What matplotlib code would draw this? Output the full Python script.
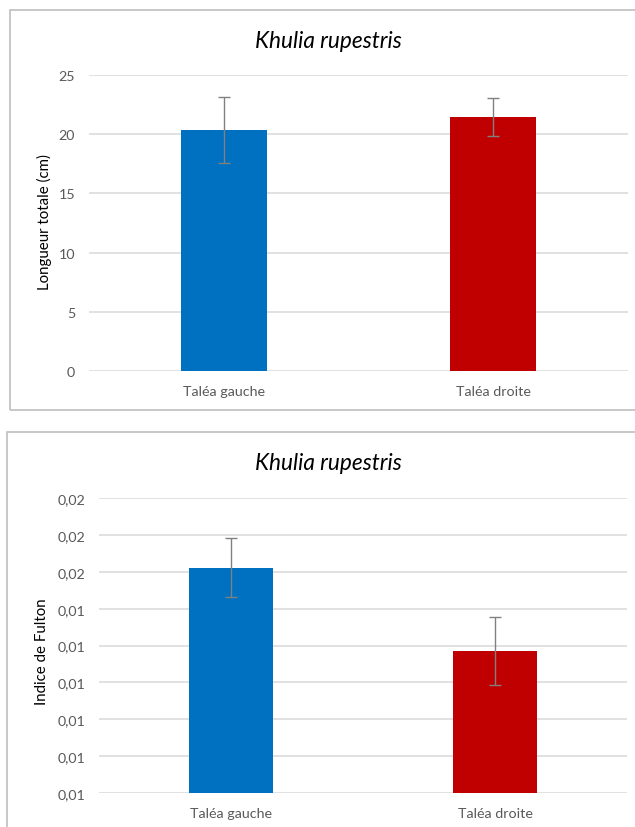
import matplotlib
matplotlib.use('Agg')
import matplotlib.pyplot as plt
from matplotlib.patches import Rectangle

# data
sites = ['Taléa gauche', 'Taléa droite']
bar_colors = ['#0070C0', '#C00000']
species = 'Khulia rupestris'

longueur = [20.33, 21.42]
longueur_err = [2.77, 1.60]
longueur_ticks = [0, 5, 10, 15, 20, 25]
longueur_labels = ['0', '5', '10', '15', '20', '25']

fulton = [0.01511, 0.01285]
fulton_err = [0.00080, 0.00092]
fulton_ticks = [0.009, 0.010, 0.011, 0.012, 0.013, 0.014, 0.015, 0.016, 0.017]
fulton_labels = ['0,01', '0,01', '0,01', '0,01', '0,01', '0,01', '0,02', '0,02', '0,02']

plt.rcParams['font.family'] = ['Lato', 'DejaVu Sans']

W, H = 635, 828
fig = plt.figure(figsize=(W / 100, H / 100), dpi=100)


def px(x0, y0, x1, y1):
    # pixel box (top-left origin) -> figure fraction rect
    return [x0 / W, 1 - y1 / H, (x1 - x0) / W, (y1 - y0) / H]


def draw_panel(rect, ylabel, values, errs, ticks, labels, ylab_x, ylab_y, title_y):
    ax = fig.add_axes(rect)
    x = range(len(sites))
    ax.bar(x, values, width=0.32, color=bar_colors, zorder=2)
    ax.errorbar(x, values, yerr=errs, fmt='none', ecolor='#808080',
                elinewidth=1.0, capsize=4.5, capthick=1.0, zorder=3)
    ax.set_xlim(-0.5, len(sites) - 0.5)
    ax.set_ylim(ticks[0], ticks[-1])
    ax.set_yticks(ticks)
    ax.set_yticklabels(labels)
    ax.set_xticks(list(x))
    ax.set_xticklabels(sites)
    ax.grid(axis='y', color='#d9d9d9', linewidth=1.1, zorder=0)
    ax.set_axisbelow(True)
    for s in ax.spines.values():
        s.set_visible(False)
    ax.tick_params(axis='both', length=0, labelsize=10.3, colors='#595959')
    ax.tick_params(axis='y', pad=10)
    ax.tick_params(axis='x', pad=10)
    ax.set_ylabel(ylabel, fontsize=10.8, color='#000000')
    ax.yaxis.set_label_coords(ylab_x, 1 - ylab_y / H, transform=fig.transFigure)
    fig.text(0.517, 1 - title_y / H, species, fontsize=16.3, style='italic',
             ha='center', va='center', color='#000000')
    return ax


# panel frames
fig.patches.append(Rectangle((10 / W, 1 - 411 / H), 640 / W, 400 / H,
                             transform=fig.transFigure, fill=False,
                             edgecolor='#bfbfbf', linewidth=1.2))
fig.patches.append(Rectangle((7 / W, -0.05), 640 / W, (828 - 433) / H + 0.05,
                             transform=fig.transFigure, fill=False,
                             edgecolor='#bfbfbf', linewidth=1.2))

draw_panel(px(89, 76, 628, 372), 'Longueur totale (cm)', longueur, longueur_err,
           longueur_ticks, longueur_labels, 52 / W, 222, 41)
draw_panel(px(99, 499.3, 627, 794), 'Indice de Fulton', fulton, fulton_err,
           fulton_ticks, fulton_labels, 49 / W, 652, 464)

plt.savefig('out.png', dpi=100)
